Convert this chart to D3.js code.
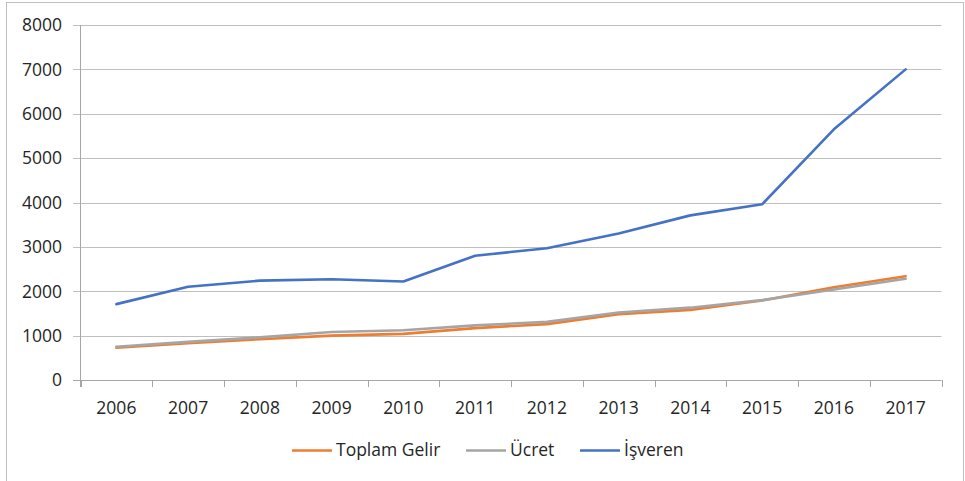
<!DOCTYPE html>
<html>
<head>
<meta charset="utf-8">
<script src="https://cdn.jsdelivr.net/npm/d3@7"></script>
<style>
html,body{margin:0;padding:0;background:#fff;}
svg{display:block;}
text{font-family:"Open Sans","Liberation Sans",sans-serif;fill:#262626;}
</style>
</head>
<body>
<svg id="chart" width="965" height="481"></svg>
<script>
const years = ["2006","2007","2008","2009","2010","2011","2012","2013","2014","2015","2016","2017"];
const toplamGelir = [730, 830, 920, 1000, 1040, 1170, 1260, 1480, 1580, 1790, 2090, 2340];
const ucret = [750, 860, 960, 1080, 1120, 1230, 1310, 1520, 1630, 1800, 2040, 2280];
const isveren = [1710, 2100, 2240, 2270, 2220, 2800, 2970, 3300, 3710, 3960, 5650, 7000];
const yTicks = [0, 1000, 2000, 3000, 4000, 5000, 6000, 7000, 8000];
const seriesNames = ["Toplam Gelir", "Ücret", "İşveren"];
const seriesColors = ["#ED7D31", "#A5A5A5", "#4472C4"];
const seriesValues = [toplamGelir, ucret, isveren];

const svg = d3.select("#chart");
const pLeft = 80.5, pRight = 941.5, pTop = 25, pBottom = 380;

svg.append("rect").attr("x", 6.5).attr("y", 2.5).attr("width", 957).attr("height", 490)
  .attr("fill", "none").attr("stroke", "#bfbfbf").attr("stroke-width", 1);

const x = d3.scaleBand().domain(years).range([pLeft, pRight]);
const y = d3.scaleLinear().domain([0, 8000]).range([pBottom, pTop]);

// gridlines
svg.append("g").selectAll("line").data(yTicks).join("line")
  .attr("x1", 73).attr("x2", pRight)
  .attr("y1", d => Math.round(y(d)) + 0.5).attr("y2", d => Math.round(y(d)) + 0.5)
  .attr("stroke", d => d === 0 ? "#a6a6a6" : "#bfbfbf").attr("stroke-width", 1);

// y labels
svg.append("g").selectAll("text").data(yTicks).join("text")
  .attr("x", 62).attr("y", d => y(d)).attr("dy", "0.36em")
  .attr("text-anchor", "end").attr("font-size", 17.5).text(d => d);

// y axis line
svg.append("line").attr("x1", pLeft).attr("x2", pLeft).attr("y1", pTop).attr("y2", pBottom + 7)
  .attr("stroke", "#a6a6a6");

// x tick marks between categories
const boundaries = years.map(d => x(d)).concat([pRight]);
svg.append("g").selectAll("line").data(boundaries).join("line")
  .attr("x1", d => Math.round(d) + 0.5).attr("x2", d => Math.round(d) + 0.5)
  .attr("y1", pBottom).attr("y2", pBottom + 7).attr("stroke", "#a6a6a6");

// x labels
svg.append("g").selectAll("text").data(years).join("text")
  .attr("x", d => x(d) + x.bandwidth() / 2).attr("y", 414)
  .attr("text-anchor", "middle").attr("font-size", 17.5).text(d => d);

// lines
const line = d3.line().x((d, i) => x(years[i]) + x.bandwidth() / 2).y(d => y(d));
seriesValues.forEach((vals, k) => {
  svg.append("path").datum(vals).attr("d", line)
    .attr("fill", "none").attr("stroke", seriesColors[k]).attr("stroke-width", 2.6)
    .attr("stroke-linejoin", "round").attr("stroke-linecap", "round");
});

// legend
const legendX = [292, 466, 580];
seriesNames.forEach((name, k) => {
  const g = svg.append("g");
  g.append("line").attr("x1", legendX[k]).attr("x2", legendX[k] + 40)
    .attr("y1", 450.5).attr("y2", 450.5).attr("stroke", seriesColors[k]).attr("stroke-width", 2.6);
  g.append("text").attr("x", legendX[k] + 44).attr("y", 450).attr("dy", "0.36em")
    .attr("font-size", 17.5).text(name);
});
</script>
</body>
</html>
